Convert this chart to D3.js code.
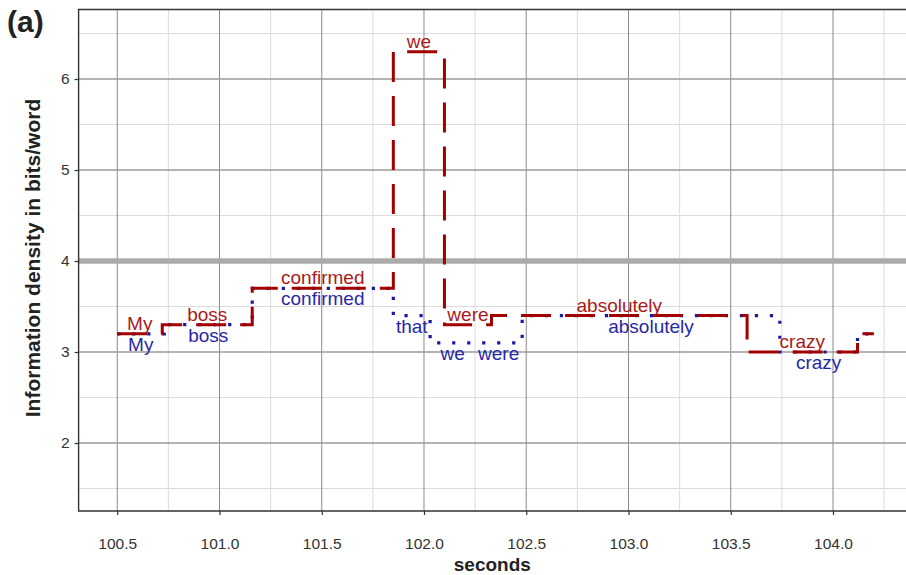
<!DOCTYPE html>
<html><head><meta charset="utf-8">
<script src="https://cdn.jsdelivr.net/npm/d3@7"></script>
<style>
html,body{margin:0;padding:0;background:#fff;}
svg{display:block;font-family:"Liberation Sans",Arial,sans-serif;}
</style></head>
<body>
<svg id="chart" width="906" height="575"></svg>
<script>
// ---- data ----
const redWords  = ["My","boss","confirmed","we","were","absolutely","crazy",""];
const redStarts = [100.5,100.72,101.16,101.85,102.1,102.33,103.58,104.12];
const redValues = [3.2,3.3,3.7,6.3,3.3,3.4,3.0,3.2];
const redEnd = 104.2;

const blueWords  = ["My","boss","confirmed","that","we","were","absolutely","crazy",""];
const blueStarts = [100.5,100.73,101.16,101.85,102.03,102.25,102.48,103.74,104.12];
const blueValues = [3.2,3.3,3.7,3.4,3.1,3.1,3.4,3.0,3.2];
const blueEnd = 104.2;

const xTicks = [100.5,101.0,101.5,102.0,102.5,103.0,103.5,104.0];
const yTicks = [2,3,4,5,6];
const refLevel = 4;

// ---- layout ----
const svg = d3.select("#chart");
const L = 78.6, R = 906, T = 9.5, B = 511;
const x = d3.scaleLinear().domain([100.311, 104.357]).range([L, R]);
const y = d3.scaleLinear().domain([1.253, 6.764]).range([B, T]);

const xMinor = d3.range(100.25, 104.5001, 0.25).filter(v => !xTicks.some(t => Math.abs(t - v) < 1e-6) && v > 100.311 && v < 104.357);
const yMinor = d3.range(1.5, 7, 1).filter(v => v > 1.253 && v < 6.764);

const g = svg.append("g");
// minor grid
g.selectAll(".xm").data(xMinor).enter().append("line")
  .attr("x1", d => x(d)).attr("x2", d => x(d)).attr("y1", T).attr("y2", B)
  .attr("stroke", "#dcdcdc").attr("stroke-width", 1);
g.selectAll(".ym").data(yMinor).enter().append("line")
  .attr("x1", L).attr("x2", R).attr("y1", d => y(d)).attr("y2", d => y(d))
  .attr("stroke", "#dcdcdc").attr("stroke-width", 1);
// major grid
g.selectAll(".xM").data(xTicks).enter().append("line")
  .attr("x1", d => x(d)).attr("x2", d => x(d)).attr("y1", T).attr("y2", B)
  .attr("stroke", "#8a8a8a").attr("stroke-width", 1);
g.selectAll(".yM").data(yTicks).enter().append("line")
  .attr("x1", L).attr("x2", R).attr("y1", d => y(d)).attr("y2", d => y(d))
  .attr("stroke", "#9a9a9a").attr("stroke-width", 1.3);
// reference line
g.append("line").attr("x1", L).attr("x2", R).attr("y1", y(refLevel)).attr("y2", y(refLevel))
  .attr("stroke", "#ababab").attr("stroke-width", 5.5);

function stepPoints(starts, values, end) {
  const pts = [];
  starts.forEach((s, i) => {
    const e = i < starts.length - 1 ? starts[i + 1] : end;
    pts.push([s, values[i]]);
    pts.push([e, values[i]]);
  });
  return pts;
}
const line = d3.line().x(d => x(d[0])).y(d => y(d[1]));

const bluePts = stepPoints(blueStarts, blueValues, blueEnd);
const redPts = stepPoints(redStarts, redValues, redEnd);

g.append("path").attr("d", line(bluePts)).attr("fill", "none")
  .attr("stroke", "#1a1aa0").attr("stroke-width", 3.2)
  .attr("stroke-dasharray", "3.2,11.8");
g.append("path").attr("d", line(redPts)).attr("fill", "none")
  .attr("stroke", "#a30000").attr("stroke-width", 3)
  .attr("stroke-dasharray", "30,14");

// word labels
const fs = 19;
redWords.forEach((w, i) => {
  if (!w) return;
  const e = i < redStarts.length - 1 ? redStarts[i + 1] : redEnd;
  g.append("text").attr("x", x((redStarts[i] + e) / 2)).attr("y", y(redValues[i]) - 4)
    .attr("text-anchor", "middle").attr("font-size", fs).attr("fill", "#aa1a1a").text(w);
});
blueWords.forEach((w, i) => {
  if (!w) return;
  const e = i < blueStarts.length - 1 ? blueStarts[i + 1] : blueEnd;
  g.append("text").attr("x", x((blueStarts[i] + e) / 2)).attr("y", y(blueValues[i]) + 17)
    .attr("text-anchor", "middle").attr("font-size", fs).attr("fill", "#2828a6").text(w);
});

// border (left, top, bottom)
g.append("path").attr("d", `M${R + 5},${T}H${L}V${B}H${R + 5}`)
  .attr("fill", "none").attr("stroke", "#333").attr("stroke-width", 1.4);

// axes
const xAxis = d3.axisBottom(x).tickValues(xTicks).tickFormat(d3.format(".1f")).tickSize(4).tickPadding(23);
const yAxis = d3.axisLeft(y).tickValues(yTicks).tickFormat(d3.format("d")).tickSize(4).tickPadding(5);
const gx = svg.append("g").attr("transform", `translate(0,${B})`).call(xAxis);
const gy = svg.append("g").attr("transform", `translate(${L},0)`).call(yAxis);
[gx, gy].forEach(a => {
  a.select(".domain").remove();
  a.selectAll(".tick line").attr("stroke", "#333").attr("stroke-width", 1.2);
  a.selectAll(".tick text").attr("fill", "#333").attr("font-size", 15.5)
    .attr("font-family", "'Liberation Sans', Arial, sans-serif");
});

// titles
svg.append("text").attr("x", (L + R) / 2).attr("y", 571).attr("text-anchor", "middle")
  .attr("font-size", 19).attr("font-weight", "bold").attr("fill", "#222").text("seconds");
svg.append("text").attr("transform", "translate(40,258) rotate(-90)").attr("text-anchor", "middle")
  .attr("font-size", 21).attr("font-weight", "bold").attr("fill", "#222")
  .text("Information density in bits/word");
svg.append("text").attr("x", 7).attr("y", 32).attr("font-size", 30).attr("font-weight", "bold")
  .attr("fill", "#222").text("(a)");
</script>
</body></html>
